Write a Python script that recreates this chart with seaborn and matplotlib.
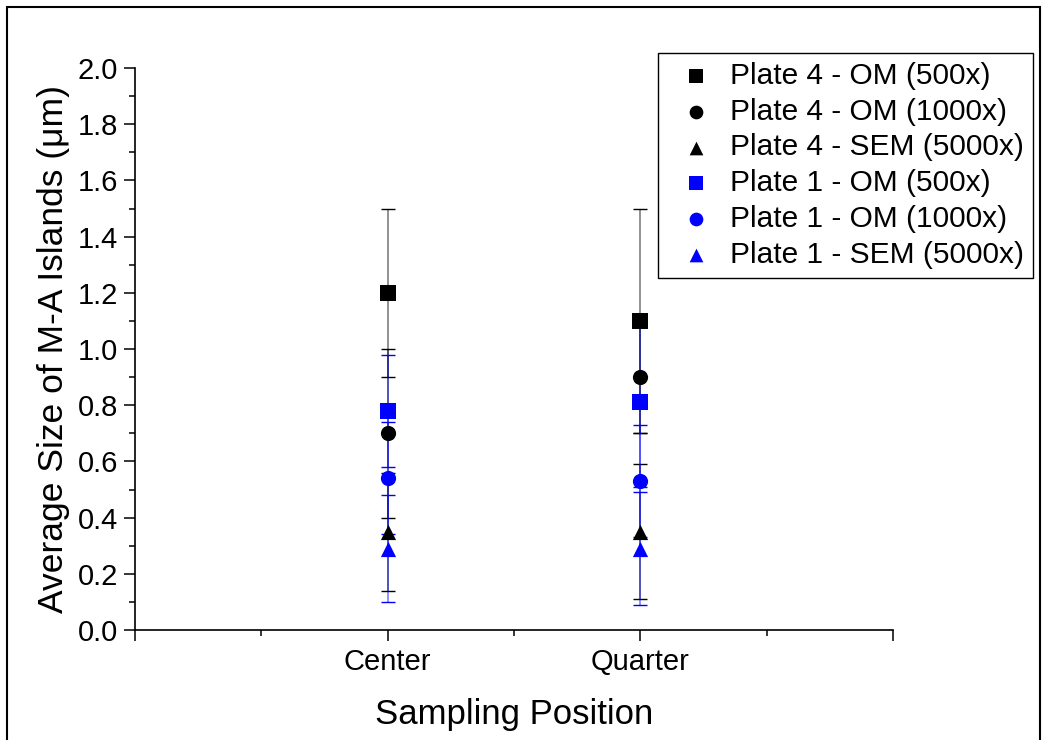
import matplotlib
matplotlib.use("Agg")
import matplotlib.pyplot as plt
import seaborn as sns
import pandas as pd
from matplotlib.patches import Rectangle
from matplotlib.ticker import MultipleLocator

positions = ["Center", "Quarter"]
series = ["Plate 4 - OM (500x)", "Plate 4 - OM (1000x)", "Plate 4 - SEM (5000x)",
          "Plate 1 - OM (500x)", "Plate 1 - OM (1000x)", "Plate 1 - SEM (5000x)"]
p4_om500 = [1.20, 1.10]
p4_om500_err = [0.30, 0.40]
p4_om1000 = [0.70, 0.90]
p4_om1000_err = [0.30, 0.20]
p4_sem = [0.35, 0.35]
p4_sem_err = [0.21, 0.24]
p1_om500 = [0.78, 0.81]
p1_om500_err = [0.20, 0.30]
p1_om1000 = [0.54, 0.53]
p1_om1000_err = [0.20, 0.20]
p1_sem = [0.29, 0.29]
p1_sem_err = [0.19, 0.20]

values = [p4_om500, p4_om1000, p4_sem, p1_om500, p1_om1000, p1_sem]
errors = [p4_om500_err, p4_om1000_err, p4_sem_err, p1_om500_err, p1_om1000_err, p1_sem_err]
colors = ["black", "black", "black", "blue", "blue", "blue"]
markers = ["s", "o", "^", "s", "o", "^"]

sns.set_theme(style="ticks")
plt.rcParams["font.family"] = ["Liberation Sans", "DejaVu Sans"]
plt.rcParams["text.color"] = "black"
plt.rcParams["axes.labelcolor"] = "black"

fig = plt.figure(figsize=(10.49, 7.40), dpi=100)
ax = fig.add_axes([135/1049, 1-630/740, (893-135)/1049, (630-68)/740])

for name, v, e, c, m in zip(series, values, errors, colors, markers):
    df = pd.DataFrame({"pos": positions, "val": v, "err": e})
    eb = ax.errorbar(df["pos"], df["val"], yerr=df["err"], fmt="none", ecolor=c,
                     elinewidth=1.2, capsize=4.7, capthick=1.0, zorder=2)
    for lc in eb.lines[2]:
        lc.set_alpha(0.5)
    sns.scatterplot(data=df, x="pos", y="val", color=c, marker=m, s=120,
                    edgecolor=c, linewidth=0, ax=ax, label=name, zorder=3)

ax.set_xlim(-1, 2)
ax.set_ylim(0, 2.0)
ax.set_xticks([-1, 0, 1, 2])
ax.set_xticklabels(["", "Center", "Quarter", ""])
ax.set_xticks([-0.5, 0.5, 1.5], minor=True)
ax.yaxis.set_major_locator(MultipleLocator(0.2))
ax.yaxis.set_minor_locator(MultipleLocator(0.1))
ax.set_yticklabels([f"{t:.1f}" for t in ax.get_yticks()])

for s in ["top", "right"]:
    ax.spines[s].set_visible(False)
for s in ["left", "bottom"]:
    ax.spines[s].set_linewidth(1.2)
    ax.spines[s].set_color("black")

ax.tick_params(axis="both", which="major", direction="out", length=8, width=1.1,
               labelsize=21, colors="black", pad=4)
ax.tick_params(axis="both", which="minor", direction="out", length=4, width=1.1, colors="black")
ax.tick_params(axis="x", which="major", pad=5)

ax.set_xlabel("Sampling Position", fontsize=25, color="black", labelpad=16)
ax.set_ylabel("Average Size of M-A Islands (μm)", fontsize=25.5, color="black", labelpad=6)

leg = ax.legend(loc="upper right", bbox_to_anchor=(1033/1049, 1-53/740),
                bbox_transform=fig.transFigure, borderaxespad=0, fontsize=21.5, frameon=True,
                fancybox=False, framealpha=1, edgecolor="black", labelspacing=0.26,
                handletextpad=0.2, borderpad=0.3, handlelength=1.9, markerscale=0.9)
leg.get_frame().set_linewidth(1.0)
for t in leg.get_texts():
    t.set_color("black")

fig.patches.append(Rectangle((7/1049, -0.02), (1040-7)/1049, 1.02-7/740,
                             transform=fig.transFigure, fill=False,
                             edgecolor="black", linewidth=1.5))

fig.savefig("out.png", dpi=100)
